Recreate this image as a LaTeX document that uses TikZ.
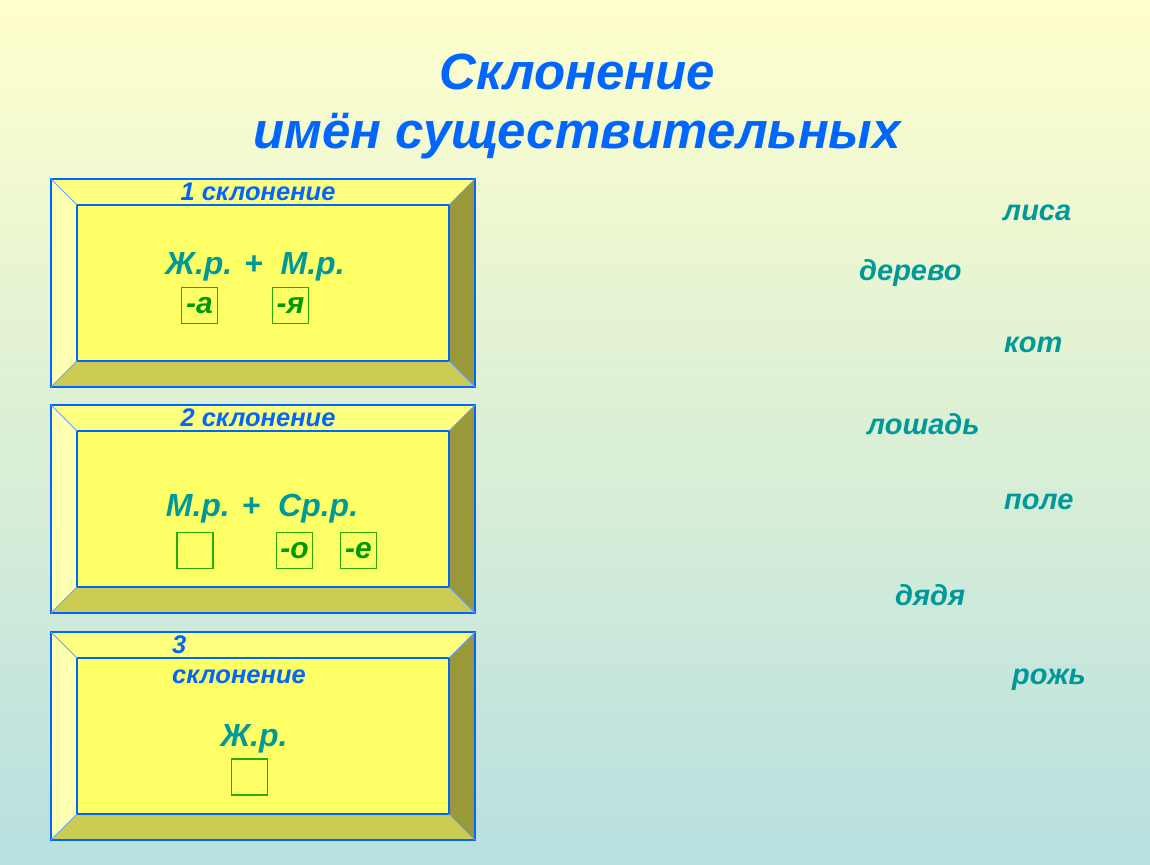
\documentclass[tikz,border=0pt]{standalone}
\usepackage{fontspec}
\setmainfont{Liberation Sans}
\usetikzlibrary{calc}

\definecolor{titleblue}{RGB}{0,102,255}
\definecolor{wordteal}{RGB}{0,153,153}
\definecolor{endgreen}{RGB}{0,153,0}
\definecolor{faceyellow}{RGB}{255,255,102}
\definecolor{topyellow}{RGB}{255,255,128}
\definecolor{leftyellow}{RGB}{255,255,178}
\definecolor{bottomolive}{RGB}{204,204,85}
\definecolor{rightolive}{RGB}{153,153,58}

\tikzset{
    heading/.style={font=\fontsize{51}{56}\selectfont\bfseries\itshape, text=titleblue, anchor=base, inner sep=0pt},
    caption/.style={font=\fontsize{25.5}{28}\selectfont\bfseries\itshape, text=titleblue, anchor=base, inner sep=0pt},
    gender/.style={font=\fontsize{32}{36}\selectfont\bfseries\itshape, text=wordteal, anchor=base, inner sep=0pt},
    word/.style={font=\fontsize{29}{32}\selectfont\bfseries\itshape, text=wordteal, anchor=base west, inner sep=0pt},
    ending/.style={draw=endgreen!80!lime, line width=1.4pt, fill=faceyellow, minimum width=36pt, minimum height=36pt, inner sep=0pt,
        font=\fontsize{30}{32}\selectfont\bfseries\itshape, text=endgreen},
    bevel/.style={draw=titleblue, line width=1.4pt},
}

\begin{document}
\begin{tikzpicture}[x=1pt,y=-1pt]

        % background
        \shade[top color=yellow!20, bottom color={rgb,255:red,184;green,224;blue,224}] (0,0) rectangle (1150,864);
        \useasboundingbox (0,0) rectangle (1150,864);

        \node[heading] (title1) at (577,90) {Склонение};
        \node[heading] (title2) at (577,148) {имён существительных};

        % three bevelled boxes
        \foreach \t in {179,405,632}{
            \pgfmathsetmacro{\ta}{\t+26}
            \pgfmathsetmacro{\tb}{\t+182}
            \pgfmathsetmacro{\tc}{\t+208}
            \fill[topyellow] (51,\t) -- (475,\t) -- (449,\ta) -- (77,\ta) -- cycle;
            \fill[leftyellow] (51,\t) -- (77,\ta) -- (77,\tb) -- (51,\tc) -- cycle;
            \fill[bottomolive] (51,\tc) -- (77,\tb) -- (449,\tb) -- (475,\tc) -- cycle;
            \fill[rightolive] (475,\t) -- (449,\ta) -- (449,\tb) -- (475,\tc) -- cycle;
            \draw[bevel, fill=faceyellow] (77,\ta) rectangle (449,\tb);
            \draw[bevel] (51,\t) rectangle (475,\tc);
            \draw[bevel, line width=0.8pt, titleblue!60] (51,\t) -- (77,\ta) (475,\t) -- (449,\ta)
                (51,\tc) -- (77,\tb) (475,\tc) -- (449,\tb);
        }

        % first box
        \node[caption] (decl1) at (258,200) {1 склонение};
        \node[gender] (g1) at (255,274) {Ж.р. +\ \ М.р.};
        \node[ending] (e1a) at (199.5,305.5) {-а};
        \node[ending] (e1b) at (290.5,305.5) {-я};

        % second box
        \node[caption] (decl2) at (258,426) {2 склонение};
        \node[gender] (g2) at (262,516) {М.р. +\ \ Ср.р.};
        \node[ending] (e2a) at (195,550.5) {};
        \node[ending] (e2b) at (294.5,550.5) {-о};
        \node[ending] (e2c) at (358.5,550.5) {-е};

        % third box
        \node[caption, anchor=base west] (decl3a) at (172,653) {3};
        \node[caption, anchor=base west] (decl3b) at (172,683) {склонение};
        \node[gender] (g3) at (254,746) {Ж.р.};
        \node[ending] (e3) at (249.5,777) {};

        % words to sort
        \node[word] (w1) at (1003,220) {лиса};
        \node[word] (w2) at (859,280) {дерево};
        \node[word] (w3) at (1004,352) {кот};
        \node[word] (w4) at (867,434) {лошадь};
        \node[word] (w5) at (1004,509) {поле};
        \node[word] (w6) at (895,605) {дядя};
        \node[word] (w7) at (1012,684) {рожь};

\end{tikzpicture}
\end{document}
